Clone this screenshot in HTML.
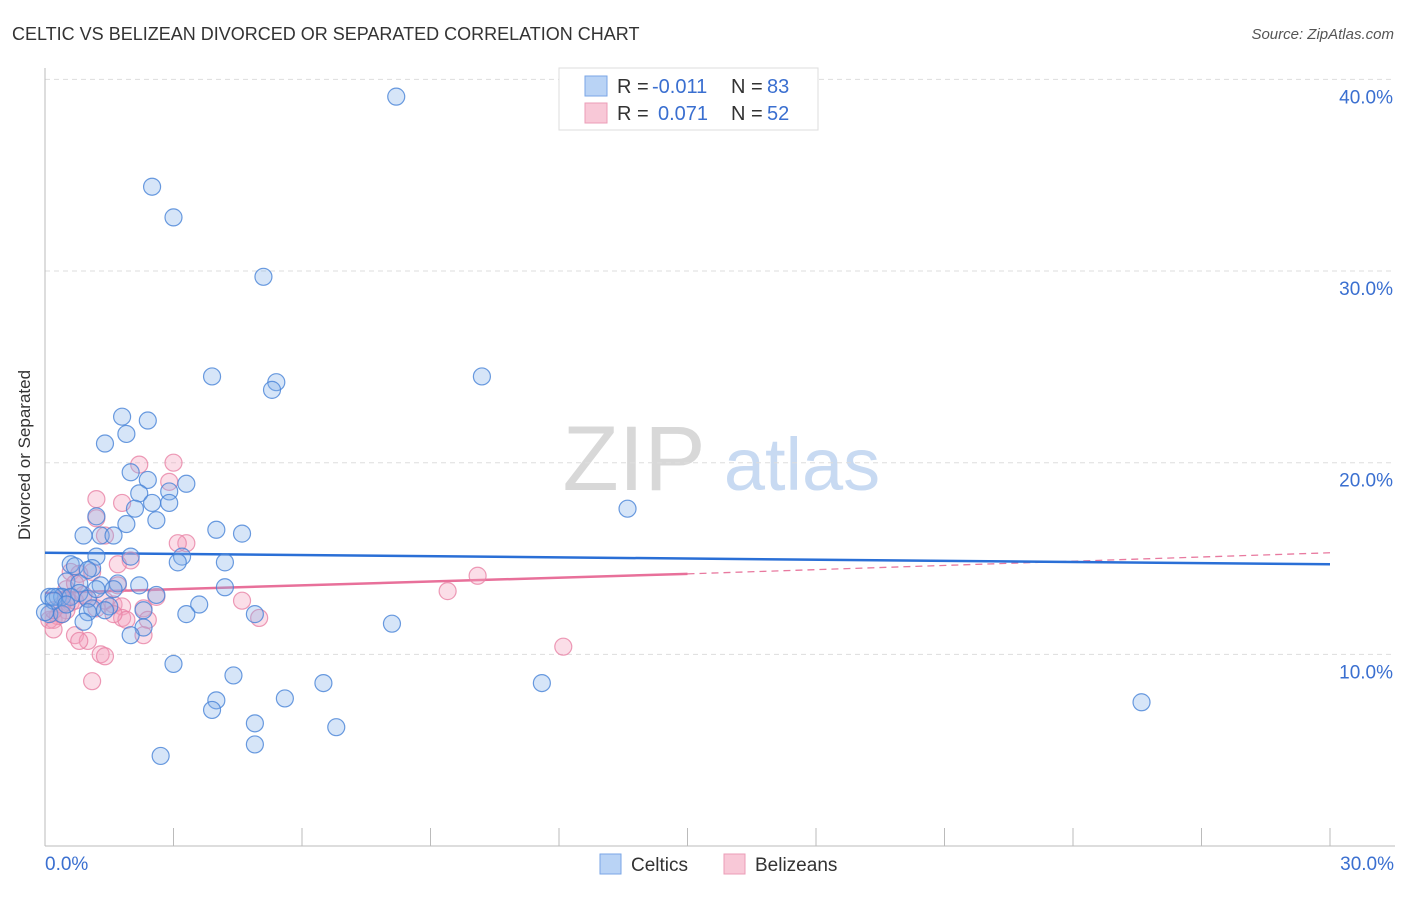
<!DOCTYPE html>
<html><head><meta charset="utf-8"><style>
body{margin:0;background:#fff;font-family:"Liberation Sans",sans-serif;}
svg text{font-family:"Liberation Sans",sans-serif;}
</style></head><body>
<svg width="1406" height="892" viewBox="0 0 1406 892">
<text x="12" y="40" font-size="18" fill="#333">CELTIC VS BELIZEAN DIVORCED OR SEPARATED CORRELATION CHART</text>
<text x="1394" y="39" font-size="15" fill="#555" font-style="italic" text-anchor="end">Source: ZipAtlas.com</text>
<g>
<text x="634" y="490" font-size="92" fill="#d8d8d8" font-family="Liberation Serif,serif" text-anchor="middle">ZIP</text>
<text x="802" y="490" font-size="74" fill="#c8daf2" text-anchor="middle">atlas</text>
</g>
<g id="grid"></g>
<g id="axes"></g>
<g id="trend"></g>
<g id="pts"></g>
<text x="30" y="455" font-size="17" fill="#333" text-anchor="middle" transform="rotate(-90 30 455)">Divorced or Separated</text>
<g>
<rect x="559" y="68" width="259" height="62" fill="#fff" stroke="#ddd"/>
<rect x="585" y="76" width="22" height="20" fill="#b9d3f5" stroke="#7aa6e6"/>
<rect x="585" y="103" width="22" height="20" fill="#f8c8d7" stroke="#eb9db7"/>
<text x="617" y="93" font-size="20" fill="#333">R = </text><text x="652" y="93" font-size="20" fill="#3a6fd0">-0.011</text>
<text x="731" y="93" font-size="20" fill="#333">N = </text><text x="767" y="93" font-size="20" fill="#3a6fd0">83</text>
<text x="617" y="120" font-size="20" fill="#333">R = </text><text x="658" y="120" font-size="20" fill="#3a6fd0">0.071</text>
<text x="731" y="120" font-size="20" fill="#333">N = </text><text x="767" y="120" font-size="20" fill="#3a6fd0">52</text>
</g>
<g>
<rect x="600" y="854" width="21" height="20" fill="#b9d3f5" stroke="#7aa6e6"/>
<text x="631" y="871" font-size="19" fill="#333">Celtics</text>
<rect x="724" y="854" width="21" height="20" fill="#f8c8d7" stroke="#eb9db7"/>
<text x="755" y="871" font-size="19" fill="#333">Belizeans</text>
</g>
</svg>
<script>
const yTicks=[10,20,30,40];
const xTickLabels=["0.0%","30.0%"];
const celticsX=[8.2,2.5,3.0,5.1,3.9,5.4,5.3,10.2,1.8,2.4,1.9,1.4,2.0,2.4,3.3,2.2,2.9,2.5,2.9,2.1,13.6,1.2,1.9,2.6,4.0,4.6,0.9,1.3,1.6,2.0,1.2,3.2,0.6,1.1,3.1,4.2,0.7,1.0,0.5,0.8,1.3,1.7,2.2,4.2,1.6,0.8,0.1,0.3,0.4,0.6,1.0,2.6,3.6,1.5,1.1,2.3,4.9,3.3,0.1,0.4,1.0,8.1,0.9,2.3,2.0,3.0,4.4,6.5,11.6,4.0,5.6,3.9,4.9,6.8,25.6,4.9,2.7,0.2,0.2,0.0,0.5,1.2,1.4];
const celticsY=[39.1,34.4,32.8,29.7,24.5,24.2,23.8,24.5,22.4,22.2,21.5,21.0,19.5,19.1,18.9,18.4,18.5,17.9,17.9,17.6,17.6,17.2,16.8,17.0,16.5,16.3,16.2,16.2,16.2,15.1,15.1,15.1,14.7,14.5,14.8,14.8,14.6,14.4,13.8,13.7,13.6,13.7,13.6,13.5,13.4,13.2,13.0,13.0,13.0,13.0,12.9,13.1,12.6,12.5,12.4,12.3,12.1,12.1,12.1,12.1,12.2,11.6,11.7,11.4,11.0,9.5,8.9,8.5,8.5,7.6,7.7,7.1,6.4,6.2,7.5,5.3,4.7,13.0,12.8,12.2,12.6,13.4,12.3];
const belizeansX=[3.0,2.2,1.2,1.8,2.9,1.2,3.3,3.1,1.4,2.0,0.6,1.1,0.5,0.8,0.7,1.7,1.7,0.6,1.6,1.8,0.5,1.2,2.3,2.4,1.8,5.0,4.6,9.4,10.1,12.1,0.2,0.3,0.1,0.4,0.2,0.7,1.0,0.8,1.3,1.4,1.1,2.3,1.9,0.7,1.0,1.4,0.4,0.5,0.2,0.9,2.6,1.6];
const belizeansY=[20.0,19.9,18.1,17.9,19.0,17.1,15.8,15.8,16.2,14.9,14.3,14.3,13.4,14.2,13.7,13.6,14.7,12.7,12.6,12.5,12.3,12.4,12.4,11.8,11.9,11.9,12.8,13.3,14.1,10.4,11.8,12.0,11.8,12.1,11.3,11.0,10.7,10.7,10.0,9.9,8.6,11.0,11.8,12.8,12.9,12.8,12.6,12.9,12.3,13.1,13.0,12.1];
const celticsTrend=[15.3,14.7];
const belizeansTrend=[13.2,14.2,15.3];
const X0=45,X1=1330,Y0=846,PPY=19.165;
const sx=v=>X0+v/30*(X1-X0);
const sy=v=>Y0-v*PPY;
const NS="http://www.w3.org/2000/svg";
function mk(parent,tag,attrs){const e=document.createElementNS(NS,tag);for(const k in attrs)e.setAttribute(k,attrs[k]);document.getElementById(parent).appendChild(e);return e;}
yTicks.forEach(t=>{
 const l=mk('grid','line',{x1:45,x2:1395,y1:sy(t),y2:sy(t),stroke:'#ddd','stroke-dasharray':'5,4'});
 
 
 const tx=mk('grid','text',{x:1393,y:sy(t)+24,'font-size':19,fill:'#3a6fd0','text-anchor':'end'});
 tx.textContent=t.toFixed(1)+'%';
 
 
});
let a=mk('axes','line',{x1:45,x2:45,y1:68,y2:846,stroke:'#bbb'});


a=mk('axes','line',{x1:45,x2:1395,y1:846,y2:846,stroke:'#bbb'});


for(let i=0;i<=10;i++){
 const t=mk('axes','line',{x1:sx(i*3),x2:sx(i*3),y1:828,y2:846,stroke:'#bbb'});
 
 
}
let xl=mk('axes','text',{x:45,y:870,'font-size':19,fill:'#3a6fd0'});xl.textContent=xTickLabels[0];


xl=mk('axes','text',{x:1394,y:870,'font-size':19,fill:'#3a6fd0','text-anchor':'end'});xl.textContent=xTickLabels[1];


belizeansX.forEach((x,i)=>{
 const c=mk('pts','circle',{cx:sx(x),cy:sy(belizeansY[i]),r:8.5,fill:'rgba(244,160,188,0.35)',stroke:'rgba(232,130,165,0.8)','stroke-width':1.2});
 
 
});
celticsX.forEach((x,i)=>{
 const c=mk('pts','circle',{cx:sx(x),cy:sy(celticsY[i]),r:8.5,fill:'rgba(130,175,235,0.33)',stroke:'rgba(70,130,215,0.8)','stroke-width':1.2});
 
 
});
let tl=mk('trend','line',{x1:sx(15),y1:sy(belizeansTrend[1]),x2:sx(30),y2:sy(belizeansTrend[2]),stroke:'#e8799f','stroke-width':1.3,'stroke-dasharray':'7,5'});


tl=mk('trend','line',{x1:sx(0),y1:sy(belizeansTrend[0]),x2:sx(15),y2:sy(belizeansTrend[1]),stroke:'#e8709a','stroke-width':2.5});


tl=mk('trend','line',{x1:sx(0),y1:sy(celticsTrend[0]),x2:sx(30),y2:sy(celticsTrend[1]),stroke:'#2a6fd6','stroke-width':2.5});


</script>
</body></html>
